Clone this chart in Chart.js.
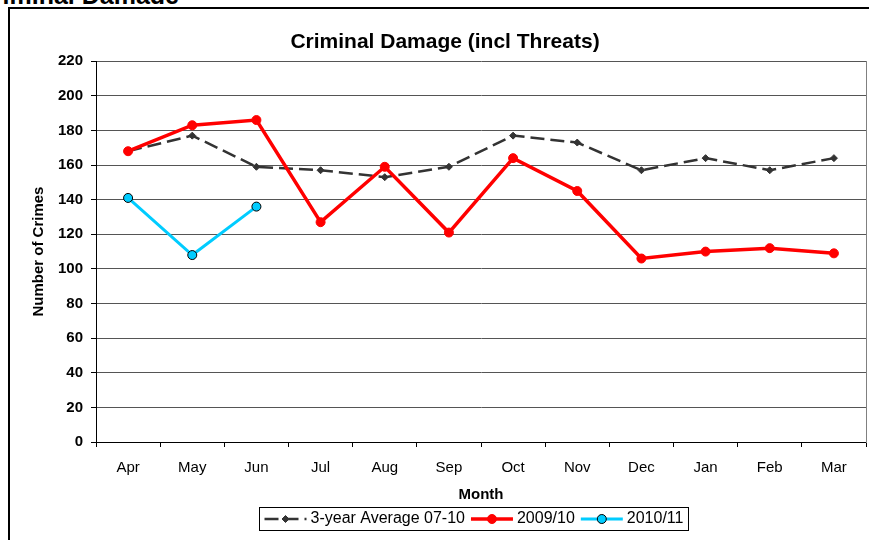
<!DOCTYPE html>
<html>
<head>
<meta charset="utf-8">
<script src="https://cdn.jsdelivr.net/npm/chart.js@4.4.0/dist/chart.umd.min.js"></script>
<style>
  html, body { margin: 0; padding: 0; background: #fff; width: 869px; height: 540px; overflow: hidden; }
  .cabecera { position: absolute; left: 0; top: 0; width: 869px; height: 4px; overflow: hidden; }
  .cabecera span { position: absolute; right: 690px; top: -17px; font: bold 25px "Liberation Sans", Arial, sans-serif; line-height: 25px; white-space: nowrap; }
  .marco { position: absolute; left: 8px; top: 7px; width: 880px; height: 560px; border: 2px solid #000; background: #fff; }
  #grafico { display: block; }
</style>
</head>
<body>
<div class="cabecera"><span>Criminal Damage</span></div>
<div class="marco"><canvas id="grafico" width="880" height="560"></canvas></div>
<script>
const meses = ['Apr', 'May', 'Jun', 'Jul', 'Aug', 'Sep', 'Oct', 'Nov', 'Dec', 'Jan', 'Feb', 'Mar'];
const promedio = [168, 177, 159, 157, 153, 159, 177, 173, 157, 164, 157, 164];
const serie0910 = [168, 183, 186, 127, 159, 121, 164, 145, 106, 110, 112, 109];
const serie1011 = [141, 108, 136];
const ticksY = [0, 20, 40, 60, 80, 100, 120, 140, 160, 180, 200, 220];

const fuente = '"Liberation Sans", Arial, sans-serif';
Chart.defaults.font.family = fuente;
Chart.defaults.color = '#000';

// Leyenda con recuadro, dibujada a mano
const leyenda = {
  id: 'leyenda',
  afterDraw(chart) {
    const ctx = chart.ctx;
    const sets = chart.data.datasets;
    ctx.save();
    ctx.font = '16px ' + fuente;
    const muestra = 42, hueco = 4, sep = 6, pad = 5;
    const anchos = sets.map(d => ctx.measureText(d.label).width);
    const total = pad * 2 + anchos.reduce((a, w) => a + muestra + hueco + w, 0) + sep * (sets.length - 1);
    const top = 498, alto = 23;
    let x = Math.round(463.5 - total / 2) + 0.5;
    ctx.strokeStyle = '#000';
    ctx.lineWidth = 1;
    ctx.strokeRect(x, top + 0.5, Math.round(total), alto);
    x += pad;
    const yc = top + alto / 2 + 0.5;
    sets.forEach((d, i) => {
      ctx.beginPath();
      ctx.setLineDash(d.borderDash || []);
      ctx.strokeStyle = d.borderColor;
      ctx.lineWidth = d.borderWidth;
      ctx.moveTo(x, yc);
      ctx.lineTo(x + muestra, yc);
      ctx.stroke();
      ctx.setLineDash([]);
      const px = x + muestra / 2, r = d.pointRadius;
      ctx.beginPath();
      if (d.pointStyle === 'rectRot') {
        ctx.moveTo(px, yc - r); ctx.lineTo(px + r, yc); ctx.lineTo(px, yc + r); ctx.lineTo(px - r, yc); ctx.closePath();
      } else {
        ctx.arc(px, yc, r, 0, Math.PI * 2);
      }
      ctx.fillStyle = d.pointBackgroundColor;
      ctx.fill();
      ctx.strokeStyle = d.pointBorderColor;
      ctx.lineWidth = d.pointBorderWidth;
      ctx.stroke();
      ctx.fillStyle = '#000';
      ctx.textBaseline = 'middle';
      ctx.fillText(d.label, x + muestra + hueco, yc);
      x += muestra + hueco + anchos[i] + sep;
    });
    ctx.restore();
  }
};

new Chart(document.getElementById('grafico').getContext('2d'), {
  type: 'line',
  data: {
    labels: meses,
    datasets: [
      {
        label: '3-year Average 07-10',
        data: promedio,
        borderColor: '#333333',
        borderWidth: 2.5,
        borderDash: [14, 6],
        pointStyle: 'rectRot',
        pointRadius: 3.5,
        pointBackgroundColor: '#333333',
        pointBorderColor: '#333333',
        pointBorderWidth: 1,
        tension: 0,
        order: 3
      },
      {
        label: '2009/10',
        data: serie0910,
        borderColor: '#FF0000',
        borderWidth: 3.5,
        pointStyle: 'circle',
        pointRadius: 4.5,
        pointBackgroundColor: '#FF0000',
        pointBorderColor: '#FF0000',
        pointBorderWidth: 1,
        tension: 0,
        order: 2
      },
      {
        label: '2010/11',
        data: serie1011,
        borderColor: '#00CCFF',
        borderWidth: 3,
        pointStyle: 'circle',
        pointRadius: 4.5,
        pointBackgroundColor: '#00CCFF',
        pointBorderColor: '#000000',
        pointBorderWidth: 1,
        tension: 0,
        order: 1
      }
    ]
  },
  options: {
    responsive: false,
    animation: false,
    devicePixelRatio: 1,
    layout: { padding: { left: 0, right: 10, top: 0, bottom: 65 } },
    plugins: {
      legend: { display: false },
      tooltip: { enabled: false },
      title: {
        display: true,
        text: 'Criminal Damage (incl Threats)',
        color: '#000',
        font: { size: 21, weight: 'bold' },
        padding: { top: 21, bottom: 6 }
      }
    },
    scales: {
      x: {
        offset: true,
        grid: { offset: true, drawOnChartArea: false, drawTicks: true, tickLength: 5, color: '#000', tickColor: '#000' },
        border: { color: '#000', width: 1 },
        ticks: { color: '#000', font: { size: 15 }, padding: 12, maxRotation: 0, autoSkip: false },
        title: { display: true, text: 'Month', color: '#000', font: { size: 15, weight: 'bold' }, padding: { top: 0, bottom: 0 } },
        afterFit: s => { s.height = 62; }
      },
      y: {
        min: 0,
        max: 220,
        afterBuildTicks: s => { s.ticks = ticksY.map(v => ({ value: v })); },
        grid: { color: '#555', tickColor: '#000', tickLength: 5, lineWidth: 1 },
        border: { color: '#000', width: 1 },
        ticks: { color: '#000', font: { size: 15, weight: 'bold' }, padding: 8 },
        title: { display: true, text: 'Number of Crimes', color: '#000', font: { size: 15, weight: 'bold' }, padding: { top: 20, bottom: 0 } },
        afterFit: s => { s.width = 86; }
      },
      yDer: {
        position: 'right',
        min: 0,
        max: 220,
        grid: { display: false },
        ticks: { display: false },
        border: { display: true, color: '#808080', width: 1 },
        afterFit: s => { s.width = 14; }
      }
    }
  },
  plugins: [leyenda]
});
</script>
</body>
</html>
